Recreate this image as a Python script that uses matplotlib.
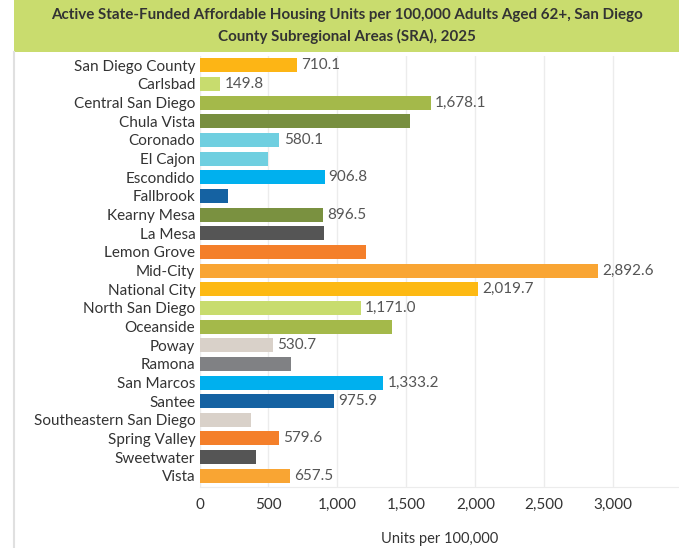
import numpy as np
import matplotlib.pyplot as plt

plt.rcParams['font.family'] = ['Lato', 'DejaVu Sans']

areas = ['San Diego County', 'Carlsbad', 'Central San Diego', 'Chula Vista',
         'Coronado', 'El Cajon', 'Escondido', 'Fallbrook', 'Kearny Mesa',
         'La Mesa', 'Lemon Grove', 'Mid-City', 'National City',
         'North San Diego', 'Oceanside', 'Poway', 'Ramona', 'San Marcos',
         'Santee', 'Southeastern San Diego', 'Spring Valley', 'Sweetwater',
         'Vista']
units = [710.1, 149.8, 1678.1, 1526.0, 580.1, 499.0, 906.8, 204.0, 896.5,
         905.0, 1207.0, 2892.6, 2019.7, 1171.0, 1398.0, 530.7, 663.0, 1333.2,
         975.9, 376.0, 579.6, 412.0, 657.5]
# only some bars carry a value label
labeled = ['San Diego County', 'Carlsbad', 'Central San Diego', 'Coronado',
           'Escondido', 'Kearny Mesa', 'Mid-City', 'National City',
           'North San Diego', 'Poway', 'San Marcos', 'Santee',
           'Spring Valley', 'Vista']
colors = ['#fdb515', '#c8dc6e', '#a4b94a', '#788f40', '#6fcfe0', '#6fcfe0',
          '#00b0ee', '#1562a2', '#7a9140', '#555555', '#f47f2a', '#f9a533',
          '#fdb913', '#c8dc6e', '#a4b94a', '#d9d1c9', '#808184', '#00b0ee',
          '#1562a2', '#d9d1c9', '#f47f2a', '#555555', '#f9a533']
xticks = [0, 500, 1000, 1500, 2000, 2500, 3000]

W, H = 679, 548
fig = plt.figure(figsize=(W / 100, H / 100), dpi=100)

# title band
band = fig.add_axes([14 / W, 1 - 52 / H, 1 - 14 / W, 52 / H])
band.set_facecolor('#c9dc6e')
band.set_xticks([])
band.set_yticks([])
for s in band.spines.values():
    s.set_visible(False)
band.text(0.5, 0.5, 'Active State-Funded Affordable Housing Units per 100,000 Adults Aged 62+, San Diego\n'
          'County Subregional Areas (SRA), 2025', ha='center', va='center',
          fontsize=10.9, fontweight='bold', color='#333333', linespacing=1.5)

# left border line
fig.add_artist(plt.Line2D([14 / W, 14 / W], [0, 1 - 52 / H], color='#e0e0e0', lw=1.5))

ax = fig.add_axes([199.5 / W, 1 - 487 / H, (W - 199.5) / W, (487 - 56) / H])
y = np.arange(len(areas))
ax.barh(y, units, height=0.75, color=colors)
for yi, name, v in zip(y, areas, units):
    if name in labeled:
        ax.text(v + 30, yi, f'{v:,.1f}', va='center', ha='left',
                fontsize=11, color='#555555')

ax.set_xlim(0, 3477)
ax.set_ylim(len(areas) - 0.4, -0.5)
ax.set_yticks(y)
ax.set_yticklabels(areas, fontsize=11, color='#333333')
ax.set_xticks(xticks)
ax.set_xticklabels([f'{t:,}' for t in xticks], fontsize=11, color='#333333')
ax.tick_params(length=0, pad=3)
ax.tick_params(axis='x', pad=8)
ax.grid(axis='x', color='#ececec', lw=1)
ax.set_axisbelow(True)
for s in ['top', 'right', 'left']:
    ax.spines[s].set_visible(False)
ax.spines['bottom'].set_color('#ececec')
ax.set_xlabel('Units per 100,000', fontsize=10.5, color='#333333', labelpad=14)

fig.savefig('out.png', dpi=100)
